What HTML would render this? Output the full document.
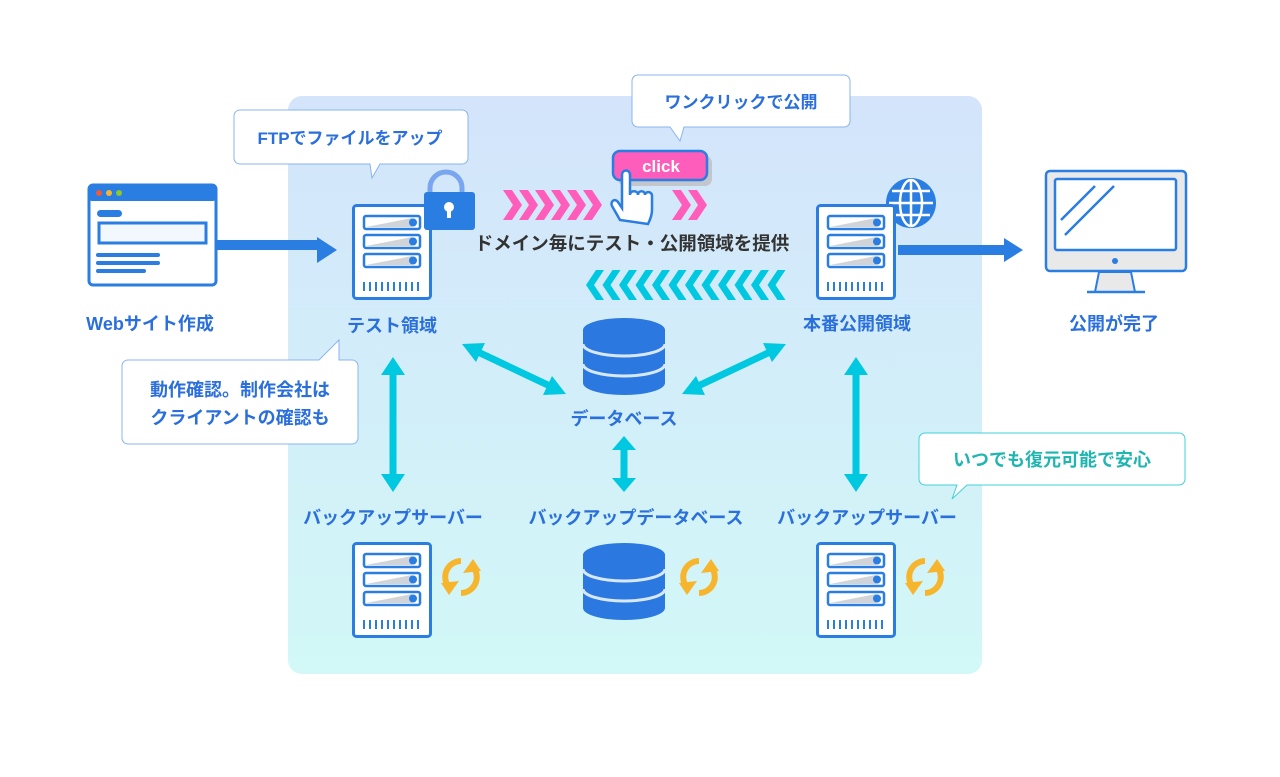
<!DOCTYPE html>
<html><head><meta charset="utf-8"><style>
body{margin:0;width:1280px;height:777px;background:#fff;overflow:hidden}
svg{display:block}
text{font-family:"Liberation Sans","Noto Sans CJK JP",sans-serif;font-weight:bold}
</style></head><body>
<svg width="1280" height="777" viewBox="0 0 1280 777">
<defs>
<linearGradient id="bg" x1="0" y1="0" x2="0" y2="1"><stop offset="0" stop-color="#d3e4fb"/><stop offset="1" stop-color="#d2f8f7"/></linearGradient>
<g id="srv">
<rect x="1.5" y="1.5" width="77" height="93" rx="3" fill="#fff" stroke="#2a7de1" stroke-width="3"/>
<g id="slot"><rect x="12" y="12" width="56" height="13" rx="2" fill="#fff" stroke="#2a7de1" stroke-width="2.5"/><polygon points="14,23 60,14 60,23" fill="#d0d3d8"/><circle cx="61" cy="18.5" r="4" fill="#2a7de1"/></g>
<use href="#slot" y="19"/><use href="#slot" y="38"/>
<g stroke="#2a7de1" stroke-width="2"><path d="M12 78v9M18 78v9M24 78v9M30 78v9M36 78v9M42 78v9M48 78v9M54 78v9M60 78v9M66 78v9"/></g>
</g>
<g id="db">
<path d="M0 12 a41 12 0 0 1 82 0 v53 a41 12 0 0 1 -82 0z" fill="#2a78e0"/>
<path d="M0 26 a41 12 0 0 0 82 0" fill="none" stroke="#d8e8fb" stroke-width="3"/>
<path d="M0 46 a41 12 0 0 0 82 0" fill="none" stroke="#d8e8fb" stroke-width="3"/>
</g>
<g id="rf">
<g fill="none" stroke="#f6b52c" stroke-width="6">
<path d="M22 6 A16 16 0 0 0 9 31"/><path d="M22 38 A16 16 0 0 0 35 13"/>
</g>
<g fill="#f6b52c">
<polygon points="2,28 20,26 10,40"/><polygon points="42,16 24,18 34,4"/>
</g>
</g>
</defs>
<rect x="288" y="96" width="694" height="578" rx="14" fill="url(#bg)"/>

<!-- browser -->
<rect x="89" y="185" width="127" height="100" rx="4" fill="#fff" stroke="#2a7de1" stroke-width="3"/>
<rect x="89" y="185" width="127" height="16" rx="3" fill="#2a7de1"/>
<circle cx="99" cy="193" r="3" fill="#f05a3c"/><circle cx="109" cy="193" r="3" fill="#f6b52c"/><circle cx="119" cy="193" r="3" fill="#8fc62a"/>
<rect x="97" y="210" width="25" height="7" rx="3.5" fill="#2a7de1"/>
<rect x="99" y="223" width="107" height="20" fill="#f3f7fe" stroke="#2a7de1" stroke-width="3"/>
<g stroke="#2a7de1" stroke-width="4" stroke-linecap="round"><path d="M98 255h60M98 263h60M98 271h46"/></g>
<path d="M217 245h100" stroke="#2a7de1" stroke-width="10"/><polygon points="317,237 337,250 317,263" fill="#2a7de1"/>
<text x="150" y="330" font-size="18" fill="#2a6fdb" text-anchor="middle">Webサイト作成</text>

<!-- FTP bubble -->
<path d="M240 110h222a6 6 0 0 1 6 6v42a6 6 0 0 1-6 6h-82l-8 14-2-14h-130a6 6 0 0 1-6-6v-42a6 6 0 0 1 6-6z" fill="#fff" stroke="#8ab4f0"/>
<text x="350" y="144" font-size="17" fill="#2a6fdb" text-anchor="middle">FTPでファイルをアップ</text>

<!-- test server + lock -->
<use href="#srv" x="352" y="204"/>
<path d="M430 194v-6a16 16 0 0 1 32 0v6" fill="none" stroke="#7aa6ef" stroke-width="5"/>
<rect x="424" y="192" width="51" height="38" rx="3" fill="#2a7de1"/>
<circle cx="449" cy="207" r="5" fill="#fff"/><rect x="447" y="208" width="4" height="10" fill="#fff"/>
<text x="392" y="332" font-size="18" fill="#2a6fdb" text-anchor="middle">テスト領域</text>

<!-- pink chevrons -->
<g fill="#ff5dbb">
<g id="pc"><polygon points="503,190 512,190 522,205 512,220 503,220 513,205"/></g>
<use href="#pc" x="16"/><use href="#pc" x="32"/><use href="#pc" x="48"/><use href="#pc" x="64"/><use href="#pc" x="80"/><use href="#pc" x="169"/><use href="#pc" x="185"/>
</g>
<!-- click button -->
<rect x="618" y="156" width="94" height="30" rx="7" fill="#c3c6cc"/>
<rect x="613" y="151" width="94" height="29" rx="7" fill="#ff5dbb" stroke="#2a7de1" stroke-width="2.5"/>
<text x="661" y="172" font-size="17" fill="#fff" text-anchor="middle">click</text>
<path d="M620 220l-8-14c-2-5 3-8 6-4l4 6v-33c0-6 8-6 8 0v20c0-5 8-5 8 0c0-5 7-5 7 0c0-4 7-4 7 1v14c0 5-2 10-4 14z" fill="#fff" stroke="#2a7de1" stroke-width="2.5"/>

<!-- one click bubble -->
<path d="M638 75h206a6 6 0 0 1 6 6v40a6 6 0 0 1-6 6h-160l-4 14-10-14h-32a6 6 0 0 1-6-6v-40a6 6 0 0 1 6-6z" fill="#fff" stroke="#8ab4f0"/>
<text x="741" y="108" font-size="17" fill="#2a6fdb" text-anchor="middle">ワンクリックで公開</text>

<text x="632" y="250" font-size="18.5" fill="#333" text-anchor="middle">ドメイン毎にテスト・公開領域を提供</text>

<!-- cyan chevrons -->
<g fill="#00c8e0">
<g id="cc"><polygon points="596,270 586,285 596,300 604,300 594,285 604,270"/></g>
<use href="#cc" x="16.5"/><use href="#cc" x="33"/><use href="#cc" x="49.5"/><use href="#cc" x="66"/><use href="#cc" x="82.5"/><use href="#cc" x="99"/><use href="#cc" x="115.5"/><use href="#cc" x="132"/><use href="#cc" x="148.5"/><use href="#cc" x="165"/><use href="#cc" x="181.5"/>
</g>

<!-- production server + globe -->
<circle cx="911" cy="203" r="25" fill="#2a7de1"/>
<g fill="none" stroke="#fff" stroke-width="2.5"><ellipse cx="911" cy="203" rx="11" ry="23"/><path d="M911 180v46M889 203h44M892 191h38M892 215h38"/></g>
<use href="#srv" x="816" y="204"/>
<text x="857" y="330" font-size="18" fill="#2a6fdb" text-anchor="middle">本番公開領域</text>
<path d="M898 250h106" stroke="#2a7de1" stroke-width="10"/><polygon points="1004,238 1023,250 1004,262" fill="#2a7de1"/>

<!-- monitor -->
<rect x="1046" y="171" width="140" height="100" rx="4" fill="#e9e9e9" stroke="#2a7de1" stroke-width="2.5"/>
<rect x="1055" y="179" width="121" height="71" rx="2" fill="#fff" stroke="#2a7de1" stroke-width="2.5"/>
<circle cx="1115" cy="261" r="3" fill="#2a7de1"/>
<polygon points="1099,272 1131,272 1135,292 1095,292" fill="#e9e9e9" stroke="#2a7de1" stroke-width="2"/>
<path d="M1087 292h58" stroke="#2a7de1" stroke-width="2.5"/>
<g stroke="#2a7de1" stroke-width="2.5"><path d="M1063 218l32-32M1065 235l48-48M1110 190l4-4M1061 220l3-3"/></g>
<text x="1114" y="330" font-size="18" fill="#2a6fdb" text-anchor="middle">公開が完了</text>

<!-- confirm bubble -->
<path d="M128 360h191l20-20v20h13a6 6 0 0 1 6 6v72a6 6 0 0 1-6 6h-224a6 6 0 0 1-6-6v-72a6 6 0 0 1 6-6z" fill="#fff" stroke="#8ab4f0"/>
<text x="240" y="396" font-size="18" fill="#2a6fdb" text-anchor="middle">動作確認。制作会社は</text>
<text x="240" y="424" font-size="18" fill="#2a6fdb" text-anchor="middle">クライアントの確認も</text>

<!-- database -->
<use href="#db" x="583" y="318"/>
<text x="624" y="425" font-size="18" fill="#2a6fdb" text-anchor="middle">データベース</text>

<!-- cyan arrows -->
<g stroke="#00c8e0" stroke-width="7" fill="none">
<path d="M393 372v104"/><path d="M624 445v36"/><path d="M856 372v104"/>
<path d="M478 352l74 35"/><path d="M770 352l-74 35"/>
</g>
<g fill="#00c8e0">
<polygon points="381,375 393,357 405,375"/><polygon points="381,474 393,492 405,474"/>
<polygon points="844,375 856,357 868,375"/><polygon points="844,474 856,492 868,474"/>
<polygon points="612,450 624,436 636,450"/><polygon points="612,478 624,492 636,478"/>
<polygon points="462,344 485,343 476,362"/><polygon points="566,394 543,395 552,376"/>
<polygon points="786,344 763,343 772,362"/><polygon points="682,394 705,395 696,376"/>
</g>

<!-- bottom row -->
<text x="393" y="524" font-size="18" fill="#2a6fdb" text-anchor="middle">バックアップサーバー</text>
<text x="636" y="524" font-size="18" fill="#2a6fdb" text-anchor="middle">バックアップデータベース</text>
<text x="867" y="524" font-size="18" fill="#2a6fdb" text-anchor="middle">バックアップサーバー</text>
<use href="#srv" x="352" y="542"/>
<use href="#srv" x="816" y="542"/>
<use href="#db" x="583" y="543"/>
<use href="#rf" x="439" y="555"/>
<use href="#rf" x="677" y="555"/>
<use href="#rf" x="903" y="555"/>

<!-- reassurance bubble -->
<path d="M925 433h254a6 6 0 0 1 6 6v40a6 6 0 0 1-6 6h-212l-15 14 5-14h-32a6 6 0 0 1-6-6v-40a6 6 0 0 1 6-6z" fill="#fff" stroke="#3fd2d8"/>
<text x="1052" y="466" font-size="18" fill="#1fb5b0" text-anchor="middle">いつでも復元可能で安心</text>
</svg>
</body></html>
